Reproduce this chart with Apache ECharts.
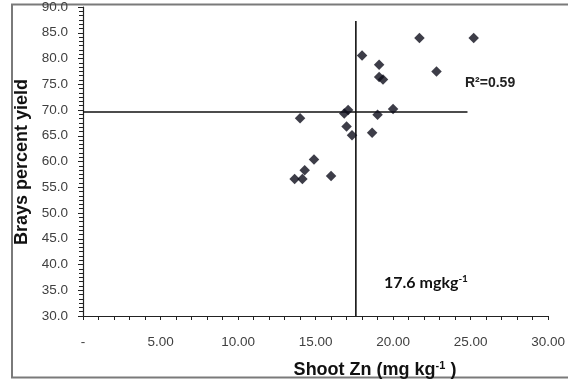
<!DOCTYPE html>
<html>
<head>
<meta charset="utf-8">
<script src="https://cdn.jsdelivr.net/npm/echarts@6/dist/echarts.min.js"></script>
<style>
  html, body { margin: 0; padding: 0; background: #fff; }
  #chart { width: 568px; height: 379px; }
</style>
</head>
<body>
<div id="chart"></div>
<script>
// Shoot Zn concentration (mg/kg) vs Brays percent yield
const shootZn = [21.7, 25.2, 18.0, 19.1, 19.1, 19.35, 22.8, 20.0, 17.1, 16.85,
                 19.0, 14.0, 17.0, 17.35, 18.65, 14.9, 14.3, 13.65, 14.15, 16.0];
const braysYield = [84.0, 84.0, 80.6, 78.8, 76.4, 75.9, 77.5, 70.2, 70.0, 69.3,
                    69.1, 68.4, 66.8, 65.1, 65.6, 60.4, 58.3, 56.6, 56.6, 57.2];

// Critical level lines (Cate-Nelson split)
const criticalZn = [17.6, 17.6];
const criticalZnSpan = [30, 87.3];
const criticalYieldSpan = [0, 24.8];
const criticalYield = [69.6, 69.6];

const rSquaredText = 'R\u00B2=0.59';
const xTickMin = 0, xTickMax = 30, xTickStep = 5;
const yTickMin = 30, yTickMax = 90, yTickStep = 5;

const chart = echarts.init(document.getElementById('chart'), null, { renderer: 'canvas' });

const points = shootZn.map((x, i) => [x, braysYield[i]]);
const vLine = criticalZn.map((x, i) => [x, criticalZnSpan[i]]);
const hLine = criticalYieldSpan.map((x, i) => [x, criticalYield[i]]);

const labelFont = '"Liberation Sans", Arial, sans-serif';
const noteFont = 'Lato, "Open Sans", sans-serif';

chart.setOption({
  animation: false,
  backgroundColor: '#fff',
  grid: { left: 83, right: 15, top: 2, bottom: 63, containLabel: false },
  xAxis: {
    type: 'value',
    min: xTickMin, max: xTickMax, interval: xTickStep,
    axisLine: { show: true, onZero: false, lineStyle: { color: '#222', width: 1.2 } },
    axisTick: { show: true, inside: false, length: 4, lineStyle: { color: '#222' } },
    minorTick: { show: true, splitNumber: 5, length: 4, lineStyle: { color: '#222' } },
    splitLine: { show: false },
    axisLabel: {
      margin: 19,
      color: '#404040',
      fontSize: 13.5,
      fontFamily: labelFont,
      formatter: v => (v === 0 ? '-' : v.toFixed(2))
    }
  },
  yAxis: {
    type: 'value',
    min: yTickMin, max: yTickMax, interval: yTickStep,
    axisLine: { show: true, onZero: false, lineStyle: { color: '#222', width: 1.2 } },
    axisTick: { show: true, inside: false, length: 5, lineStyle: { color: '#222' } },
    minorTick: { show: true, splitNumber: 6, length: 4, lineStyle: { color: '#222' } },
    splitLine: { show: false },
    axisLabel: {
      margin: 15,
      color: '#404040',
      fontSize: 13.5,
      fontFamily: labelFont,
      formatter: v => v.toFixed(1)
    }
  },
  series: [
    {
      type: 'line',
      data: hLine,
      symbol: 'none',
      lineStyle: { color: '#111', width: 1.6 },
      z: 2
    },
    {
      type: 'line',
      data: vLine,
      symbol: 'none',
      lineStyle: { color: '#111', width: 1.6 },
      z: 2
    },
    {
      type: 'scatter',
      data: points,
      symbol: 'diamond',
      symbolSize: [10.5, 10.5],
      itemStyle: { color: '#0d0d1a' },
      z: 3
    }
  ],
  graphic: [
    {
      type: 'rect',
      shape: { x: 12, y: 4.5, width: 620, height: 373 },
      style: { fill: 'none', stroke: '#7a7a7a', lineWidth: 2 },
      silent: true,
      z: 0
    },
    {
      type: 'text',
      x: 22, y: 162,
      rotation: Math.PI / 2,
      style: {
        text: 'Brays percent yield',
        font: 'bold 18px ' + labelFont,
        fill: '#111',
        textAlign: 'center',
        textVerticalAlign: 'middle'
      }
    },
    {
      type: 'text',
      x: 375, y: 370,
      style: {
        text: '{t|Shoot Zn (mg kg}{s|-1}{t| )}',
        textAlign: 'center',
        textVerticalAlign: 'middle',
        rich: {
          t: { font: 'bold 18px ' + labelFont, fill: '#111' },
          s: { font: 'bold 11px ' + labelFont, fill: '#111', padding: [0, 0, 9, 0] }
        }
      }
    },
    {
      type: 'text',
      x: 465, y: 83,
      style: {
        text: rSquaredText,
        font: 'bold 14px ' + labelFont,
        fill: '#222',
        textAlign: 'left',
        textVerticalAlign: 'middle'
      }
    },
    {
      type: 'text',
      x: 384, y: 283,
      style: {
        text: '{t|17.6 mgkg}{s|-1}',
        textAlign: 'left',
        textVerticalAlign: 'middle',
        rich: {
          t: { font: 'bold 16px ' + noteFont, fill: '#111' },
          s: { font: 'bold 10px ' + noteFont, fill: '#111', padding: [0, 0, 9, 0] }
        }
      }
    }
  ]
});
</script>
</body>
</html>
